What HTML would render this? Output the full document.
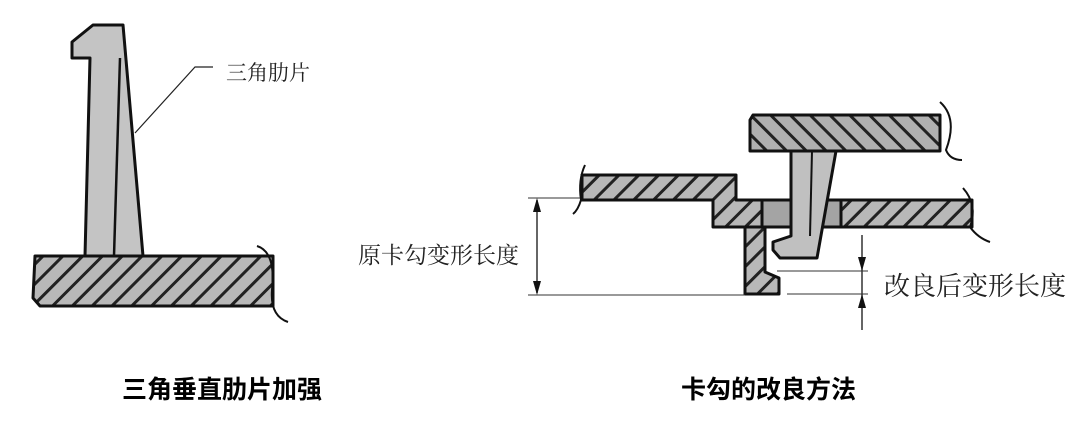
<!DOCTYPE html>
<html><head><meta charset="utf-8"><style>
html,body{margin:0;padding:0;background:#fff;width:1080px;height:422px;overflow:hidden}
svg{display:block}
text{font-family:"Liberation Serif","Noto Serif CJK SC",serif;fill:#222}
.b{font-family:"Liberation Sans","Noto Sans CJK SC",sans-serif;font-weight:bold;fill:#000}
</style></head><body>
<svg width="1080" height="422" viewBox="0 0 1080 422" xmlns="http://www.w3.org/2000/svg">
<defs>
<pattern id="h" patternUnits="userSpaceOnUse" width="14" height="14" patternTransform="rotate(45)">
<rect width="14" height="14" fill="#b8b8b8"/><rect x="0" width="3" height="14" fill="#222"/>
</pattern>
<pattern id="h2" patternUnits="userSpaceOnUse" width="14" height="14" patternTransform="rotate(-45)">
<rect width="14" height="14" fill="#b0b0b0"/><rect x="0" width="3" height="14" fill="#222"/>
</pattern>
</defs>
<g stroke="#111" stroke-width="3" stroke-linejoin="round">
<polygon points="72,42 93,25 123,25 143,256 85,256 90,58 72,58" fill="#c4c4c4"/>
<line x1="120" y1="58" x2="114" y2="256" stroke-width="2.5"/>
<polygon points="35,256 273,256 273,306 40,306 33,298" fill="url(#h)"/>
</g>
<path d="M257,246 Q276,252 272,290 Q270,316 288,322" fill="none" stroke="#111" stroke-width="2"/>
<polyline points="135,133 195,67 213,67" fill="none" stroke="#222" stroke-width="1.2"/>
<text x="226" y="80" font-size="21">三角肋片</text>
<text class="b" x="122" y="398" font-size="25">三角垂直肋片加强</text>

<g stroke="#111" stroke-width="3" stroke-linejoin="round">
<polygon points="753,115 940,115 940,151 750,151 750,120" fill="url(#h2)"/>
<polygon points="582,175 736,175 736,200 762,200 762,227 713,227 713,200 582,200" fill="url(#h)"/>
<polygon points="745,227 765,227 765,272 779,278 779,294 745,294" fill="url(#h)"/>
<rect x="762" y="200" width="79" height="27" fill="#a4a4a4"/>
<rect x="841" y="200" width="131" height="27" fill="url(#h)"/>
<polygon points="791,151 836,151 817,258 780,258 773,250 773,242 791,236" fill="#c0c0c0"/>
<line x1="812" y1="151" x2="810" y2="236" stroke-width="2"/>
</g>
<g fill="none" stroke="#111" stroke-width="2">
<path d="M940,102 Q958,118 946,150 Q950,160 962,160"/>
<path d="M585,165 Q578,180 581,200 Q578,210 573,214"/>
<path d="M963,188 Q978,205 970,227 Q978,238 990,242"/>
</g>
<g stroke="#333" stroke-width="1" fill="none">
<line x1="528" y1="198" x2="580" y2="198"/>
<line x1="528" y1="295" x2="745" y2="295"/>
<line x1="777" y1="271" x2="868" y2="271"/>
<line x1="787" y1="294" x2="868" y2="294"/>
<line x1="537" y1="200" x2="537" y2="293" stroke-width="1.5"/>
<line x1="862" y1="235" x2="862" y2="330" stroke-width="1.5"/>
</g>
<g fill="#111">
<polygon points="537,198 533,212 541,212"/>
<polygon points="537,295 533,281 541,281"/>
<polygon points="862,271 858,257 866,257"/>
<polygon points="862,294 858,308 866,308"/>
</g>
<text x="358" y="263" font-size="23">原卡勾变形长度</text>
<text x="884" y="295" font-size="26">改良后变形长度</text>
<text class="b" x="681" y="398" font-size="25">卡勾的改良方法</text>
</svg>
</body></html>
